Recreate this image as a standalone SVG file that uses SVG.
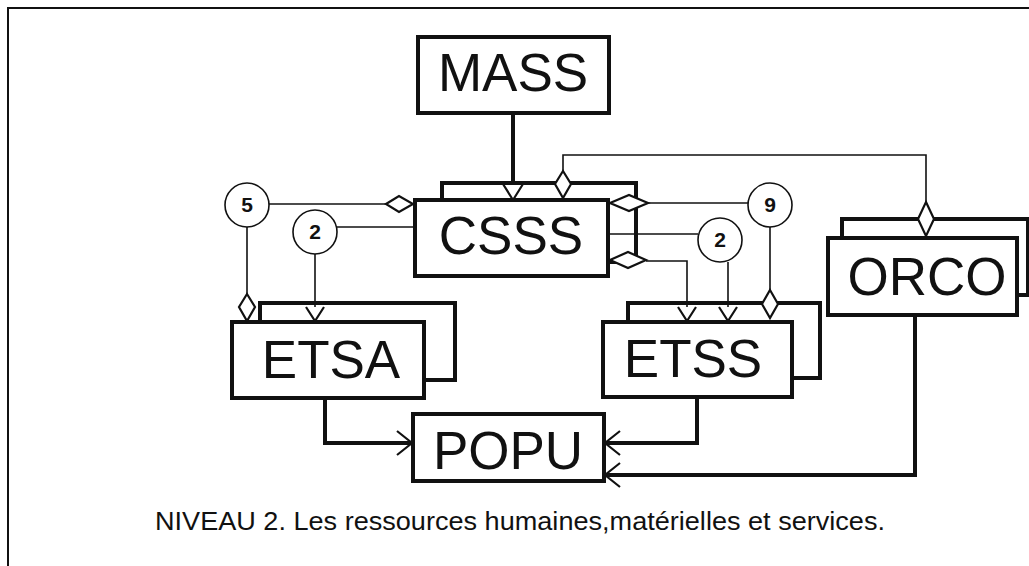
<svg xmlns="http://www.w3.org/2000/svg" width="1029" height="566" viewBox="0 0 1029 566">
<style>
.box{fill:#fff;stroke:#111;stroke-width:4}
.back{fill:none;stroke:#111;stroke-width:4}
.lbl{font-family:"Liberation Sans",Arial,sans-serif;font-size:53px;fill:#111;text-anchor:middle}
.num{font-family:"Liberation Sans",Arial,sans-serif;font-size:21px;font-weight:bold;fill:#111;text-anchor:middle}
.circ{fill:#fff;stroke:#111;stroke-width:1.6}
.thin{fill:none;stroke:#111;stroke-width:1.6}
.thick{fill:none;stroke:#111;stroke-width:4}
.dia{fill:#fff;stroke:#111;stroke-width:2.2}
.arr{fill:none;stroke:#111;stroke-width:2.2}
.cap{font-family:"Liberation Sans Narrow","Liberation Sans",Arial,sans-serif;font-size:25px;fill:#111}
</style>
<rect width="1029" height="566" fill="#fff"/>
<path d="M8,566 V8 H1029" fill="none" stroke="#111" stroke-width="2"/>

<g id="connectors">
  <path class="thick" d="M513,113 V198"/>
  <path class="thin" d="M563,172 V155 H926 V203"/>
  <path class="thin" d="M269,204 H387"/>
  <path class="thin" d="M247,227 V294"/>
  <path class="thin" d="M337,227 H415"/>
  <path class="thin" d="M315,254 V310"/>
  <path class="thin" d="M648,203 H748"/>
  <path class="thin" d="M770,227 V290"/>
  <path class="thin" d="M608,234 H698"/>
  <path class="thin" d="M728,262 V310"/>
  <path class="thin" d="M646,261 H687 V310"/>
  <path class="thick" d="M325,398 V443 H411"/>
  <path class="thick" d="M697,397 V443 H606"/>
  <path class="thick" d="M915,315 V475 H606"/>
  <path class="arr" d="M397,431 L412,443 L397,455"/>
  <path class="arr" d="M620,431 L605,443 L620,455"/>
  <path class="arr" d="M620,463 L605,475 L620,487"/>
  <path class="dia" d="M503,184 L513,200 L523,184"/>
  <path class="dia" d="M306,307 L315,321 L324,307"/>
  <path class="dia" d="M678,307 L687,321 L696,307"/>
  <path class="dia" d="M719,307 L728,321 L737,307"/>
</g>

<g id="MASS">
  <rect class="box" x="418" y="37" width="191" height="76"/>
  <text class="lbl" x="513" y="91">MASS</text>
</g>

<g id="CSSS">
  <path class="back" d="M442,200 V183 H636 V262 H608"/>
  <rect class="box" x="415" y="200" width="193" height="76"/>
  <text class="lbl" x="511" y="254">CSSS</text>
  <path class="dia" d="M386,204 L399,196 L413,204 L399,212 Z"/>
  <path class="dia" d="M563,171 L571,184 L563,198 L555,184 Z"/>
  <path class="dia" d="M610,203 L629,195 L648,203 L629,211 Z"/>
  <path class="dia" d="M610,260 L628,252 L646,260 L628,268 Z"/>
</g>

<g id="ETSA">
  <path class="back" d="M260,322 V303 H455 V380 H424"/>
  <rect class="box" x="232" y="322" width="192" height="76"/>
  <text class="lbl" x="331" y="378">ETSA</text>
  <path class="dia" d="M247,294 L255,307 L247,321 L239,307 Z"/>
</g>

<g id="ETSS">
  <path class="back" d="M628,322 V303 H820 V378 H792"/>
  <rect class="box" x="603" y="322" width="189" height="75"/>
  <text class="lbl" x="693" y="377">ETSS</text>
  <path class="dia" d="M770,290 L778,304 L770,318 L762,304 Z"/>
</g>

<g id="ORCO">
  <path class="back" d="M842,238 V219 H1028 V295 H1017"/>
  <rect class="box" x="828" y="238" width="189" height="77"/>
  <text class="lbl" x="927" y="295">ORCO</text>
  <path class="dia" d="M926,202 L934,219 L926,236 L918,219 Z"/>
</g>

<g id="POPU">
  <rect class="box" x="413" y="414" width="191" height="67"/>
  <text class="lbl" x="508" y="469">POPU</text>
</g>

<g id="circle5">
  <circle class="circ" cx="247" cy="205" r="22"/>
  <text class="num" x="247" y="212">5</text>
</g>
<g id="circle2a">
  <circle class="circ" cx="315" cy="232" r="22"/>
  <text class="num" x="315" y="239">2</text>
</g>
<g id="circle9">
  <circle class="circ" cx="770" cy="205" r="22"/>
  <text class="num" x="770" y="212">9</text>
</g>
<g id="circle2b">
  <circle class="circ" cx="720" cy="240" r="22"/>
  <text class="num" x="720" y="247">2</text>
</g>

<text class="cap" x="155" y="530" textLength="730" lengthAdjust="spacingAndGlyphs">NIVEAU 2. Les ressources humaines,matérielles et  services.</text>
</svg>
